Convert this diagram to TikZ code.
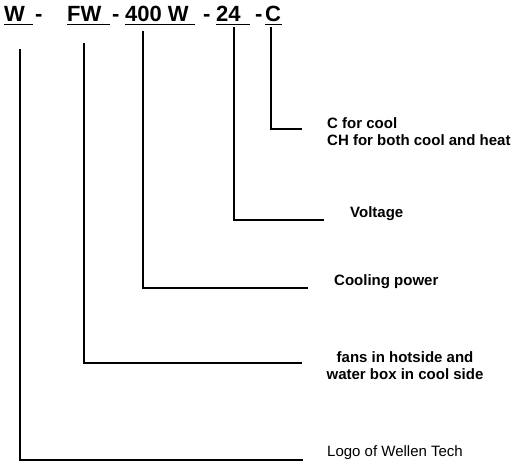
\documentclass[tikz,border=0pt]{standalone}
\usepackage{fontspec}
\setmainfont{Liberation Sans}
\begin{document}
\begin{tikzpicture}[x=1pt,y=-1pt,
  hdr/.style={anchor=base west,inner sep=0pt,font=\fontsize{22}{26}\selectfont\bfseries},
  lbl/.style={anchor=west,inner sep=0pt,font=\fontsize{15}{17}\selectfont\bfseries},
  conn/.style={line width=1.3pt,black},
  uline/.style={line width=1.8pt,black}]
\useasboundingbox (0,0) rectangle (519,466);
% header
\node[hdr] (hW) at (4,21) {W};
\node[hdr] (d1) at (35,21) {-};
\node[hdr] (hFW) at (67,21) {FW};
\node[hdr] (d2) at (112,21) {-};
\node[hdr] (h400) at (125,21) {400 W};
\node[hdr] (d3) at (203,21) {-};
\node[hdr] (h24) at (216,21) {24};
\node[hdr] (d4) at (255,21) {-};
\node[hdr] (hC) at (265,21) {C};
% underlines
\draw[uline] (4,24.5) -- (33,24.5);
\draw[uline] (67,24.5) -- (110,24.5);
\draw[uline] (125,24.5) -- (195,24.5);
\draw[uline] (216,24.5) -- (250,24.5);
\draw[uline] (265,24.5) -- (282,24.5);
% labels
\node[lbl] (lc1) at (327,123) {C for cool};
\node[lbl] (lc2) at (327,140) {CH for both cool and heat};
\node[lbl] (lv) at (350,214) {Voltage};
\node[lbl] (lp) at (334,282) {Cooling power};
\node[lbl,anchor=center,align=center] (lf) at (405,365.5) {fans in hotside and\\water box in cool side};
\node[anchor=west,inner sep=0pt,font=\fontsize{15}{17}\selectfont] (ll) at (327,453) {Logo of Wellen Tech};
% connector coordinates
\coordinate (sW) at (20,49);
\coordinate (eW) at (303,460);
\coordinate (sFW) at (84,43);
\coordinate (eFW) at (302,363);
\coordinate (s400) at (143,31);
\coordinate (e400) at (308,288);
\coordinate (s24) at (234,27);
\coordinate (e24) at (324,220);
\coordinate (sC) at (271,27);
\coordinate (eC) at (302,129);
% connectors
\draw[conn,line width=1.8pt] (sW) |- (eW);
\draw[conn] (sFW) |- (eFW);
\draw[conn] (s400) |- (e400);
\draw[conn] (s24) |- (e24);
\draw[conn] (sC) |- (eC);
\end{tikzpicture}
\end{document}
